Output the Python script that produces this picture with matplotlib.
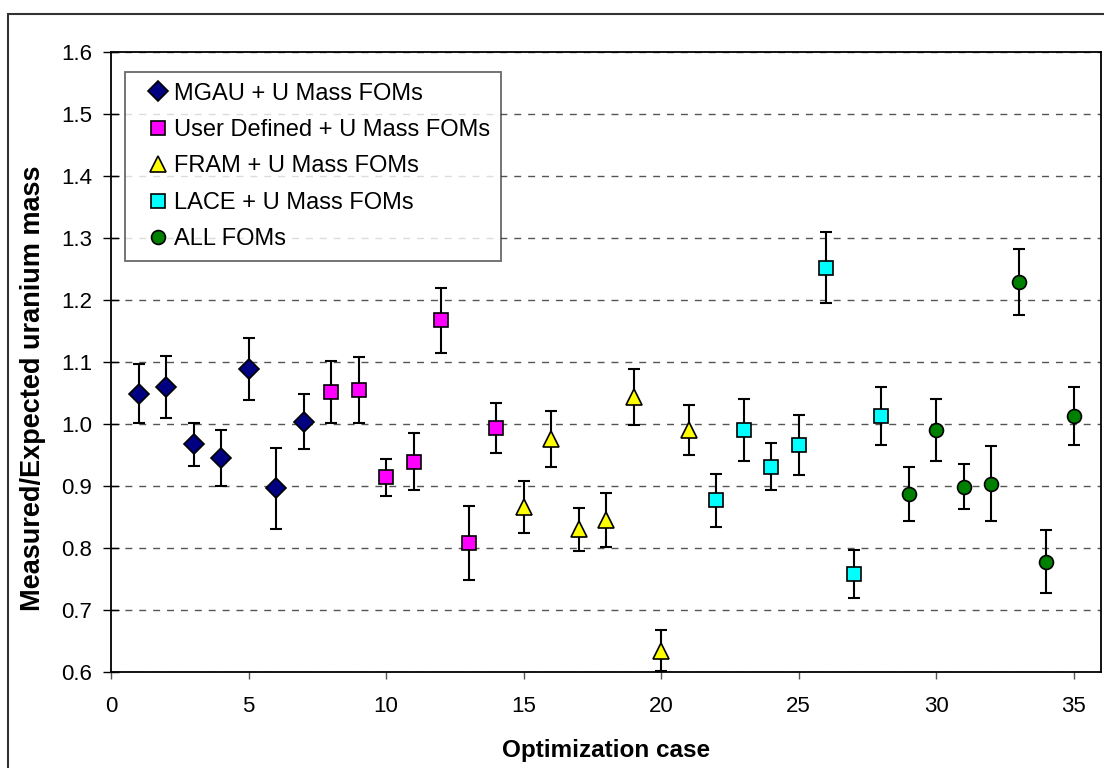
import matplotlib
matplotlib.use("Agg")
import matplotlib.pyplot as plt
from matplotlib.patches import Rectangle

plt.rcParams['font.family'] = ['Liberation Sans', 'DejaVu Sans']

# Data
mgau_x = [1, 2, 3, 4, 5, 6, 7]
mgau_y = [1.049, 1.059, 0.967, 0.945, 1.089, 0.896, 1.004]
mgau_e = [0.048, 0.050, 0.035, 0.045, 0.050, 0.065, 0.045]

user_x = [8, 9, 10, 11, 12, 13, 14]
user_y = [1.051, 1.055, 0.914, 0.939, 1.167, 0.808, 0.994]
user_e = [0.050, 0.053, 0.030, 0.046, 0.052, 0.060, 0.040]

fram_x = [15, 16, 17, 18, 19, 20, 21]
fram_y = [0.866, 0.976, 0.830, 0.845, 1.043, 0.634, 0.990]
fram_e = [0.042, 0.045, 0.035, 0.043, 0.045, 0.033, 0.040]

lace_x = [22, 23, 24, 25, 26, 27, 28]
lace_y = [0.877, 0.991, 0.931, 0.966, 1.252, 0.758, 1.013]
lace_e = [0.043, 0.050, 0.038, 0.048, 0.057, 0.038, 0.047]

all_x = [29, 30, 31, 32, 33, 34, 35]
all_y = [0.887, 0.991, 0.899, 0.904, 1.229, 0.778, 1.013]
all_e = [0.043, 0.050, 0.036, 0.060, 0.053, 0.051, 0.047]

series = [
    ("MGAU + U Mass FOMs", mgau_x, mgau_y, mgau_e, 'D', '#000080', 10),
    ("User Defined + U Mass FOMs", user_x, user_y, user_e, 's', '#FF00FF', 10),
    ("FRAM + U Mass FOMs", fram_x, fram_y, fram_e, '^', '#FFFF00', 11),
    ("LACE + U Mass FOMs", lace_x, lace_y, lace_e, 's', '#00FFFF', 10),
    ("ALL FOMs", all_x, all_y, all_e, 'o', '#008000', 10),
]

fig = plt.figure(figsize=(11.04, 7.68), dpi=100)
ax = fig.add_axes([111/1104, 1-672/768, 990/1104, 620/768])

for label, xs, ys, es, m, c, ms in series:
    ax.errorbar(xs, ys, yerr=es, fmt='none', ecolor='black', elinewidth=1.5,
                capsize=4, capthick=1.5, zorder=3)
    ax.plot(xs, ys, linestyle='none', marker=m, markersize=ms, markerfacecolor=c,
            markeredgecolor='black', markeredgewidth=1.2, label=label, zorder=4)

ax.set_xlim(0, 36.0)
ax.set_ylim(0.6, 1.6)
ax.set_xticks([0, 5, 10, 15, 20, 25, 30, 35])
ax.set_yticks([0.6, 0.7, 0.8, 0.9, 1.0, 1.1, 1.2, 1.3, 1.4, 1.5, 1.6])
ax.set_yticklabels([f"{v:.1f}" for v in ax.get_yticks()])
ax.yaxis.grid(True, linestyle=(0, (5, 5)), color='#555555', linewidth=1.0)
ax.set_axisbelow(True)

ax.tick_params(axis='y', direction='inout', length=11, width=1, labelsize=16, pad=8)
ax.tick_params(axis='x', direction='out', length=5, width=1, labelsize=16, pad=12, color='#555555')
for s in ax.spines.values():
    s.set_linewidth(1.3)

ax.set_xlabel("Optimization case", fontsize=17.5, fontweight='bold', labelpad=16)
ax.set_ylabel("Measured/Expected uranium mass", fontsize=19.5, fontweight='bold',
              va='center')
ax.yaxis.set_label_coords((33 - 111) / 990, (672 - 388) / 620)

leg = ax.legend(loc='upper left', bbox_to_anchor=((125-111)/990, (672-72)/620),
                borderaxespad=0, fontsize=17, frameon=True, fancybox=False,
                handlelength=1.9, handletextpad=-0.28, labelspacing=0.61,
                borderpad=0.45, numpoints=1)
leg.get_frame().set_edgecolor('#444444')
leg.get_frame().set_linewidth(1.3)
leg.set_zorder(5)

fig.patches.append(Rectangle((8/1104, -0.05), 1.2, 1 - 14/768 + 0.05,
                             transform=fig.transFigure, fill=False,
                             edgecolor='#333333', linewidth=1.5))

fig.savefig("out.png", dpi=100)
